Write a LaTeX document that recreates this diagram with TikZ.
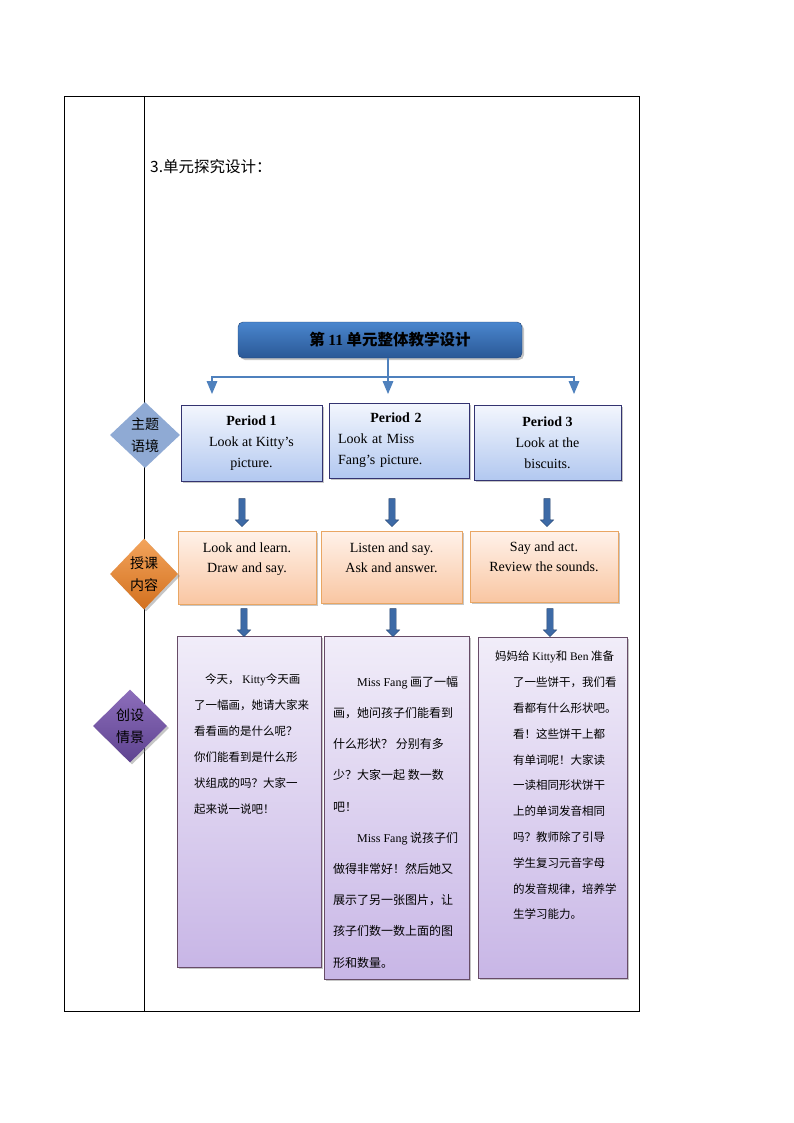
\documentclass[tikz,border=0pt]{standalone}
\usepackage{fontspec}
\setmainfont{Liberation Serif}
\newfontfamily\cjk{Noto Sans CJK SC}
\usepackage{xcolor}
\usetikzlibrary{arrows,shapes,shapes.arrows,positioning,shadows,calc}
\definecolor{linkblue}{HTML}{4F81BD}
\definecolor{arrowfill}{HTML}{3D6AA6}
\definecolor{arrowline}{HTML}{27456F}
\definecolor{titletop}{HTML}{4A86CE}
\definecolor{titlebot}{HTML}{2A5896}
\definecolor{periodtop}{HTML}{F3F6FD}
\definecolor{periodbot}{HTML}{B2C8F0}
\definecolor{tasktop}{HTML}{FFF2EA}
\definecolor{taskbot}{HTML}{F9C6A2}
\definecolor{scenetop}{HTML}{F1EDF9}
\definecolor{scenebot}{HTML}{C8B6E6}
\definecolor{themefill}{HTML}{8FAAD4}
\definecolor{lessontop}{HTML}{F3A45C}
\definecolor{lessonbot}{HTML}{D2701E}
\definecolor{scenetopd}{HTML}{8D6EBB}
\definecolor{scenebotd}{HTML}{5E4390}
\newcommand\en[1]{{\rmfamily #1}}

\begin{document}
\begin{tikzpicture}[x=1pt,y=-1pt,>=triangle 45,
	box shadow/.style={drop shadow={shadow xshift=2pt,shadow yshift=-2pt,opacity=.45}},
	title node/.style={rounded corners=5pt,box shadow,top color=titletop,bottom color=titlebot,
		draw=titlebot!80!black,inner sep=0pt,minimum width=284pt,minimum height=36pt,font=\cjk\bfseries\fontsize{15.5}{17}\selectfont},
	period node/.style={box shadow,top color=periodtop,bottom color=periodbot,draw=blue!30!black!80,
		inner sep=0pt,align=center,font=\fontsize{14}{21}\selectfont},
	task node/.style={box shadow,top color=tasktop,bottom color=taskbot,draw=orange!50!brown!70,inner sep=0pt},
	scene node/.style={box shadow,top color=scenetop,bottom color=scenebot,draw=violet!30!black!70,inner sep=0pt},
	side node/.style={diamond,inner sep=0pt,align=center,font=\cjk\fontsize{14}{22}\selectfont},
	down arrow/.style={single arrow,shape border rotate=270,draw=arrowline,fill=arrowfill,inner sep=3pt,
		minimum height=28pt,single arrow head extend=3.5pt},
	task text/.style={align=center,inner sep=0pt,font=\fontsize{14}{20}\selectfont},
	scene text/.style={align=left,inner sep=0pt,anchor=north west}]

    \useasboundingbox (0,0) rectangle (794,1123);

    % table frame
    \draw[line width=.9pt] (64,96) rectangle (639,1011);
    \draw[line width=.9pt] (144,96) -- (144,1011);
    \node[anchor=west,inner sep=0pt,font=\cjk\fontsize{15.5}{17}\selectfont] (head) at (150,167) {3.单元探究设计：};

    \node[title node] (title) at (380,340) {\hspace*{20pt}第 \en{11} 单元整体教学设计};

    \node[period node,minimum width=141pt,minimum height=76pt] (p1) at (251.5,443)
        {\textbf{Period 1}\\Look at Kitty’s\\picture.};
    \node[period node,minimum width=140pt,minimum height=75pt,text width=122pt,align=left] (p2) at (399,440.5)
        {\makebox[116pt]{\textbf{Period 2}}\\Look at Miss\\Fang’s picture.};
    \node[period node,minimum width=147pt,minimum height=75pt] (p3) at (547.5,442.5)
        {\textbf{Period 3}\\Look at the\\biscuits.};

    \node[task node,minimum width=138pt,minimum height=73pt] (t1) at (247,567.5) {};
    \node[task node,minimum width=141pt,minimum height=72pt] (t2) at (391.5,567) {};
    \node[task node,minimum width=148pt,minimum height=71pt] (t3) at (544,566.5) {};
    \node[task text,below=12pt of t1.north] (tt1) {Look and learn.\\Draw and say.};
    \node[task text,below=12pt of t2.north] (tt2) {Listen and say.\\Ask and answer.};
    \node[task text,below=11pt of t3.north] (tt3) {Say and act.\\Review the sounds.};

    \node[scene node,minimum width=144pt,minimum height=331pt] (s1) at (249,801.5) {};
    \node[scene node,minimum width=145pt,minimum height=343pt] (s2) at (396.5,807.5) {};
    \node[scene node,minimum width=149pt,minimum height=341pt] (s3) at (552.5,807.5) {};

    \node[scene text,font=\cjk\fontsize{11.5}{26}\selectfont] (st1) at (194,674) {%
        \hspace*{11pt}今天， \en{Kitty}今天画\\
        了一幅画，她请大家来\\
        看看画的是什么呢？\\
        你们能看到是什么形\\
        状组成的吗？大家一\\
        起来说一说吧！};
    \node[scene text,font=\cjk\fontsize{12}{31.2}\selectfont] (st2) at (333,676) {%
        \hspace*{24pt}\en{Miss Fang} 画了一幅\\
        画，她问孩子们能看到\\
        什么形状？ 分别有多\\
        少？大家一起 数一数\\
        吧！\\
        \hspace*{24pt}\en{Miss Fang} 说孩子们\\
        做得非常好！然后她又\\
        展示了另一张图片，让\\
        孩子们数一数上面的图\\
        形和数量。};
    \node[scene text,font=\cjk\fontsize{11.5}{25.8}\selectfont] (st3) at (495,651) {%
        妈妈给 \en{Kitty}和 \en{Ben} 准备\\
        \hspace*{18pt}了一些饼干，我们看\\
        \hspace*{18pt}看都有什么形状吧。\\
        \hspace*{18pt}看！这些饼干上都\\
        \hspace*{18pt}有单词呢！大家读\\
        \hspace*{18pt}一读相同形状饼干\\
        \hspace*{18pt}上的单词发音相同\\
        \hspace*{18pt}吗？教师除了引导\\
        \hspace*{18pt}学生复习元音字母\\
        \hspace*{18pt}的发音规律，培养学\\
        \hspace*{18pt}生学习能力。};

    \node[side node,fill=themefill,minimum width=70pt,minimum height=66pt] (d1) at (145,435) {主题\\语境};
    \node[side node,box shadow,top color=lessontop,bottom color=lessonbot,
        minimum width=68pt,minimum height=71pt] (d2) at (144,574) {授课\\内容};
    \node[side node,box shadow,top color=scenetopd,bottom color=scenebotd,
        minimum width=74pt,minimum height=73pt] (d3) at (130,726) {创设\\情景};

    \node[down arrow] (a1) at (242,511) {};
    \node[down arrow] (a2) at (392,511) {};
    \node[down arrow] (a3) at (547,511) {};
    \node[down arrow] (a4) at (244,621) {};
    \node[down arrow] (a5) at (393,621) {};
    \node[down arrow] (a6) at (550,621) {};

    \coordinate (hub) at (388,377);
    \coordinate (e1) at (212,394);
    \coordinate (e2) at (388,394);
    \coordinate (e3) at (574,394);
	\draw[->,draw=linkblue,line width=2pt] (title.south -| hub) -- (e2);
	\draw[->,draw=linkblue,line width=2pt] (hub) -| (e1);
	\draw[->,draw=linkblue,line width=2pt] (hub) -| (e3);

\end{tikzpicture}
\end{document}
